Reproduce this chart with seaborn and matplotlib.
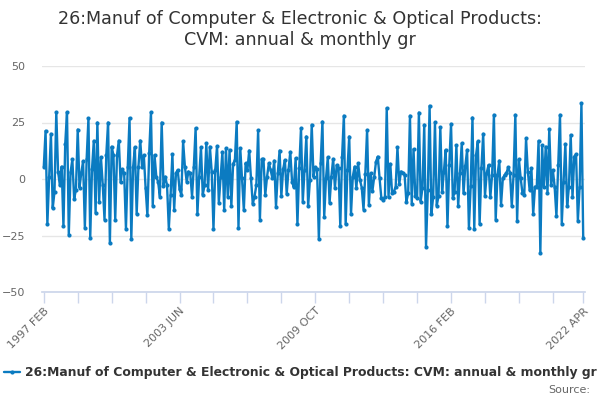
import numpy as np
import pandas as pd
import matplotlib
matplotlib.use("Agg")
import matplotlib.pyplot as plt
import seaborn as sns

# monthly growth values, 1997 FEB .. 2022 APR
vals_1997 = [5.5, 21.3, -20, 0.7, 20, -13, -5.6, 29.6, 3.3, -2.8, 5.5, -21, 15.4, 29.6,
             -24.7, 3, 8.7, -8.9, -4.7, 21.9, -3.8, 2.7, 7.8, -21.6, 9, 26.8, -26, 4.3,
             16.9, -15, 25, -10, 9.6, -2.5, -18, 10.8, 25]
vals_2000 = [-28.5, 14.3, 10.6, -18, 10.6, 17, -1.5, 4.4, 2.5, -22, 5.2, 27, -26.6, 5.2,
             14, -15.5, 5.5, 17, 5.5, 10.6, -4, -16, 11.4, 29.6, -11.8, 10.6, 1, -1.2,
             -7.8, 25, -3, 1, -2.7, -22, -7, 11, -13.5, 2.5, 4, -4.6]
vals_2003 = [-7, 16.6, 5.5, -1.2, 3.3, 2.5, -7.8, 5.5, 22.5, -15.5, 1, 14, -7, -2.7, 15.8,
             -5, 14.3, 3.3, -22, 4, 14.6, -10.5, 0.7, 12, -13.8, 13.6, -7.8, 12.9, -12,
             6.7, 8.4, 25.3, -21.6, 13.6, 0.3, -13.8, 7, 4]
vals_2006 = [12.6, 0.3, -11, -7.8, -2.7, 21.5, -18, 8.7, 8.7, -7, 1, 7, 4, 0.3, 8.1, -12.3,
             2.5, 12.6, -7.5, 4.3, 8.4, -6.7, 4, 12, -1.2, -3.7, 9.2, -20, 4.7, 22.5, -10,
             4, 18.8, -12, -0.4, 24, 1, 5.2, 4.3, -26.6]
vals_2009 = [7, 25.4, -16.7, 0.3, 9.6, -10.5, 1, 8.9, -4, 6.2, 4.7, -21, 9.9, 28, -20, 4,
             18.8, -15.5, 1, 5.5, -4, 7, -0.4, -3.8, -13.5, 2.2, 21.7, -11.5, 2.5, -5.2, 1,
             7.7, 9.9, 0.3, -8.6, -9.3, -7.8, 31.4]
vals_2012 = [-7.8, 6.7, -6.4, -5.6, -3.4, 14, -2.2, 3.3, 2.8, 1.8, -10, -6.4, 28, -11,
             13.2, -7.5, -8.6, 29.4, -10, -4, 24, -30, -4.9, 32.4, -15.7, -7.8, 25.1,
             -11.8, -7.5, 22.9, -5.6, 3.3, 12.9, -20.9, 6.2, 24.4, -8.6, -5.6, 15, -12]
vals_2016 = [2.5, 15.8, -6.4, 5.8, 12.9, -21.6, -3.1, 27.2, -22.3, 10.6, 16.6, -20, 4.7,
             20, -7.5, 2.8, 6.2, -8.1, 1.8, 28.4, -18, 1.8, 8.1, -11.5, 0.3, 1.8, 2.5, 5.2,
             2.8, -12, 1.8, 28.4, -18.5, 8.7, 0.3, -6.4, -7, 18]
vals_2019 = [3.3, -4.9, 4.7, -15.5, -3.4, -3.4, 16.9, -32.7, 15, -3.7, 14.3, -6, 22, -2.7,
             4, -3.4, -16.4, 6.2, 28.4, -19.7, -1.2, 15.5, -12, -3.4, 19.5, -8.1, 9.9, 11,
             -18.5, -3.4, 33.6, -26.3]

values = (vals_1997 + vals_2000 + vals_2003 + vals_2006 + vals_2009
          + vals_2012 + vals_2016 + vals_2019)
months = pd.date_range("1997-02-01", periods=len(values), freq="MS")
series_name = "26:Manuf of Computer & Electronic & Optical Products: CVM: annual & monthly gr"
title = "26:Manuf of Computer & Electronic & Optical Products:\nCVM: annual & monthly gr"

df = pd.DataFrame({"idx": np.arange(len(values)), "value": values})

sns.set_theme(style="white")
plt.rcParams["font.family"] = ["DejaVu Sans"]

line_color = "#0b7bc1"
fig, ax = plt.subplots(figsize=(6, 4), dpi=100)
fig.subplots_adjust(left=0.07, right=0.975, top=0.835, bottom=0.27)

sns.lineplot(data=df, x="idx", y="value", color=line_color, linewidth=1.7,
             marker="o", markersize=3.0, markeredgewidth=0, ax=ax, label=series_name)

ax.set_ylim(-50, 50)
ax.set_yticks([-50, -25, 0, 25, 50])
ax.set_xlim(-1, len(values))
ax.yaxis.grid(True, color="#e6e6e6", linewidth=1)
ax.xaxis.grid(False)
for side in ["top", "right", "left"]:
    ax.spines[side].set_visible(False)
ax.spines["bottom"].set_color("#ccd6eb")
ax.spines["bottom"].set_position(("data", -50))

# ticks every 19 months, labels every 76 months, last month labelled
tick_pos = list(range(0, len(values) - 10, 19)) + [len(values) - 1]
ax.set_xticks(tick_pos)
labels = []
for p in tick_pos:
    if p % 76 == 0 or p == len(values) - 1:
        labels.append(months[p].strftime("%Y %b").upper())
    else:
        labels.append("")
ax.set_xticklabels(labels, rotation=45, ha="right", rotation_mode="anchor",
                   fontsize=8, color="#666666")
ax.tick_params(axis="x", length=8, width=1, color="#ccd6eb", bottom=True, pad=2)
ax.tick_params(axis="y", length=0, labelsize=8, labelcolor="#666666", pad=12)
ax.set_xlabel("")
ax.set_ylabel("")

fig.suptitle(title, fontsize=12.6, color="#333333", x=0.5, y=0.975, linespacing=1.2)

ax.get_legend().remove()
handles, lbls = ax.get_legend_handles_labels()
leg = fig.legend(handles, lbls, loc="center left", bbox_to_anchor=(-0.012, 0.068),
                 frameon=False, handlelength=1.3, handletextpad=0.4,
                 prop={"weight": "bold", "size": 8.9})
for t in leg.get_texts():
    t.set_color("#333333")
fig.text(0.983, 0.025, "Source:", ha="right", va="center", fontsize=8, color="#666666")

fig.savefig("out.png", dpi=100)
